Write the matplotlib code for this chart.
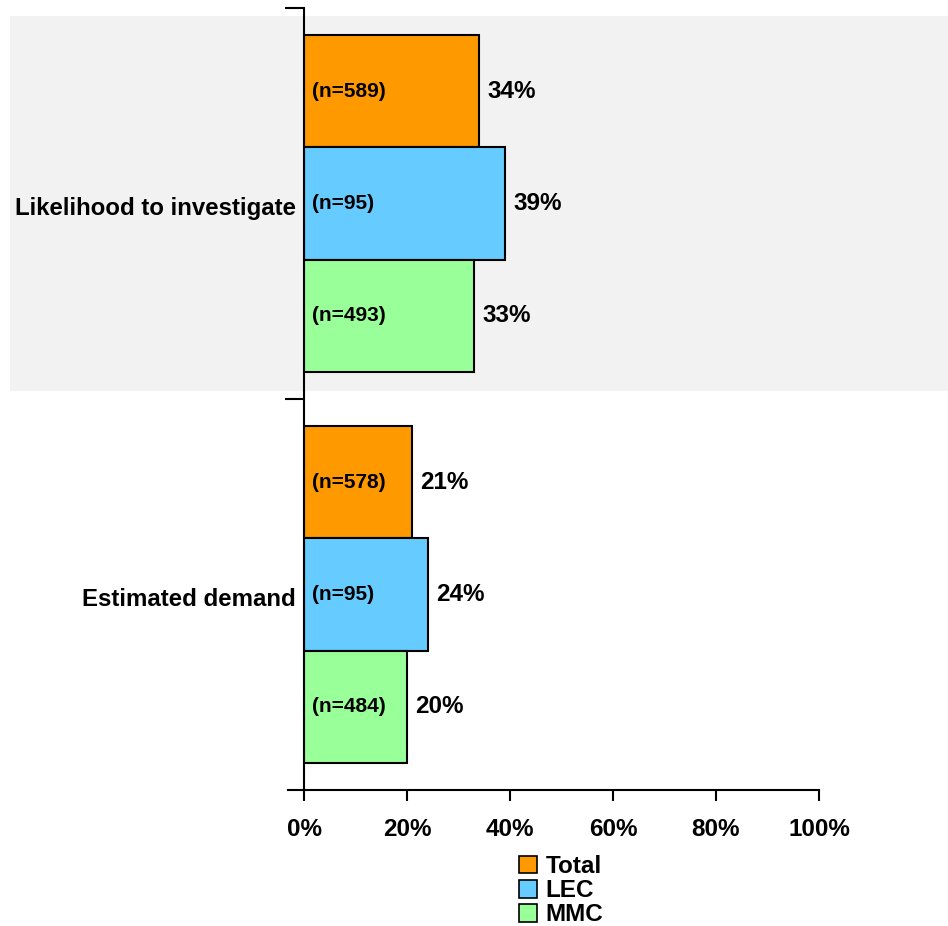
import matplotlib
matplotlib.use("Agg")
import matplotlib.pyplot as plt
from matplotlib.patches import Rectangle, Patch
from matplotlib.lines import Line2D
from matplotlib.transforms import ScaledTranslation

categories = ["Likelihood to investigate", "Estimated demand"]
series = ["Total", "LEC", "MMC"]
values = {
    "Total": [34, 21],
    "LEC": [39, 24],
    "MMC": [33, 20],
}
n_labels = {
    "Total": ["(n=589)", "(n=578)"],
    "LEC": ["(n=95)", "(n=95)"],
    "MMC": ["(n=493)", "(n=484)"],
}
colors = {"Total": "#FF9900", "LEC": "#66CCFF", "MMC": "#99FF99"}
xticks = [0, 20, 40, 60, 80, 100]
xticklabels = ["0%", "20%", "40%", "60%", "80%", "100%"]

plt.rcParams['font.family'] = ['Liberation Sans', 'DejaVu Sans']
W, H = 948, 926
fig = plt.figure(figsize=(W / 100, H / 100), dpi=100)

# shaded background for the first category (figure coords)
bg = Rectangle((10 / W, 1 - 391 / H), (948 - 10) / W, (391 - 16) / H,
               transform=fig.transFigure, facecolor="#F2F2F2",
               edgecolor="none", zorder=-10)
fig.add_artist(bg)

ax = fig.add_axes([304 / W, 1 - 790 / H, (819 - 304) / W, (790 - 8) / H])
ax.set_zorder(1)
ax.set_facecolor("none")
ax.patch.set_alpha(0)
ax.set_xlim(0, 100)
ax.set_ylim(2, 0)

bar_h = 112 / 390
for ci, cat in enumerate(categories):
    for si, s in enumerate(series):
        yc = ci + 0.5 + (si - 1) * bar_h
        v = values[s][ci]
        ax.barh(yc, v, height=bar_h, color=colors[s], edgecolor="black",
                linewidth=1.5, zorder=3)
        ax.text(v + 1.6, yc, f"{v}%", ha="left", va="center", fontsize=17.5,
                fontweight="bold", zorder=4)
        ax.text(1.5, yc, n_labels[s][ci], ha="left", va="center", fontsize=15,
                fontweight="bold", zorder=4)

for sp in ["top", "right", "bottom"]:
    ax.spines[sp].set_visible(False)
ax.spines["left"].set_linewidth(1.5)
ax.spines["left"].set_zorder(5)

# x axis line extending left beyond the y axis
ax.add_line(Line2D([-16 / 515, 1], [0, 0], transform=ax.transAxes, color="black",
                   linewidth=1.5, clip_on=False, zorder=5))
ax.set_xticks(xticks)
ax.set_xticklabels(xticklabels, fontsize=17.5, fontweight="bold")
ax.tick_params(axis="x", direction="out", length=8, width=1.5, pad=12)

# y ticks at category boundaries pointing left, category labels in middle
ax.set_yticks([0, 1])
ax.set_yticklabels([])
ax.tick_params(axis="y", direction="out", length=14, width=1.5)
ax.set_yticks([0.5, 1.5], minor=True)
ax.set_yticklabels(categories, minor=True, fontsize=17.3, fontweight="bold")
ax.tick_params(axis="y", which="minor", length=0, pad=6)
for lbl in ax.get_yticklabels(minor=True):
    lbl.set_transform(lbl.get_transform() + ScaledTranslation(0, -3 / 100, fig.dpi_scale_trans))

handles = [Patch(facecolor=colors[s], edgecolor="black", linewidth=1.2, label=s) for s in series]
fig.legend(handles=handles, loc="upper left", bbox_to_anchor=(519 / W, 1 - 855 / H),
           frameon=False, prop={"weight": "bold", "size": 17.5},
           handlelength=0.75, handleheight=0.75, handletextpad=0.35, labelspacing=0.05,
           borderpad=0.0, borderaxespad=0.0)

fig.savefig("out.png", dpi=100)
